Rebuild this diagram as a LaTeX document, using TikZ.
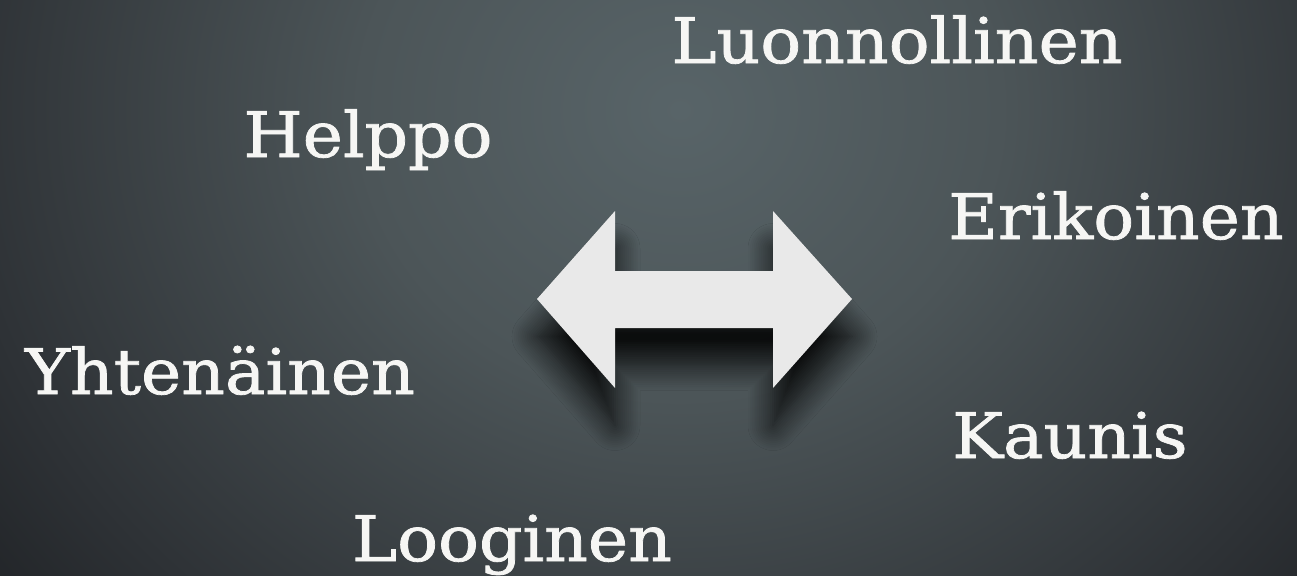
\documentclass[tikz,border=0pt]{standalone}
\usepackage{fontspec}
\setmainfont[FakeStretch=1.08,FakeBold=1.2]{DejaVu Serif}
\usetikzlibrary{shadows.blur}
\definecolor{slate}{RGB}{88,100,104}
\definecolor{slatemid}{RGB}{76,85,88}
\definecolor{dusk}{RGB}{46,50,54}
\definecolor{night}{RGB}{24,26,29}
\definecolor{chalk}{HTML}{E9E9E9}
\definecolor{paper}{HTML}{F6F6F4}
\pgfdeclareradialshading{glow}{\pgfpoint{0bp}{0bp}}{%
  color(0bp)=(slate); color(8bp)=(slatemid); color(18bp)=(dusk);
  color(25bp)=(night); color(50bp)=(night)}

\begin{document}
\begin{tikzpicture}[x=0.02cm,y=-0.02cm,
    word/.style={text=paper,font=\fontsize{35.8}{40}\selectfont,
        inner sep=0pt,anchor=base},
    twoway/.style={fill=chalk,blur shadow={shadow xshift=0pt,
        shadow yshift=-0.75cm,shadow blur radius=0.5cm,
        shadow blur steps=14,shadow opacity=85}}]
  \useasboundingbox (0,0) rectangle (1297,575);
  \begin{scope}
    \clip (0,0) rectangle (1297,575);
    \shade[shading=glow] (680,110) ellipse [x radius=1000,y radius=900];
  \end{scope}

  % double arrow in the middle
  \path[twoway] (537,299) -- (615,211) -- (615,271) -- (773,271)
    -- (773,211) -- (852,299) -- (773,388) -- (773,328)
    -- (615,328) -- (615,388) -- cycle;

  \node[word] (luonnollinen) at (897,63) {Luonnollinen};
  \node[word] (helppo) at (368,157) {Helppo};
  \node[word] (erikoinen) at (1116,239) {Erikoinen};
  \node[word] (yhtenainen) at (220,394) {Yhtenäinen};
  \node[word] (kaunis) at (1070,458) {Kaunis};
  \node[word] (looginen) at (512,561) {Looginen};
\end{tikzpicture}
\end{document}
